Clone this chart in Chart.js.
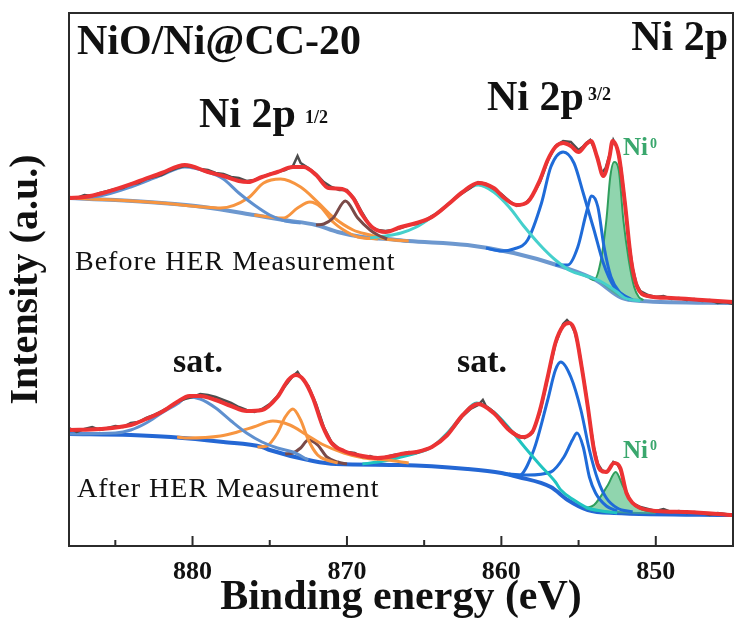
<!DOCTYPE html>
<html>
<head>
<meta charset="utf-8">
<script src="https://cdn.jsdelivr.net/npm/chart.js@4.4.0/dist/chart.umd.min.js"></script>
<style>
  html, body { margin: 0; padding: 0; background: #fff; }
  #wrap { width: 735px; height: 633px; }
</style>
</head>
<body>
<div id="wrap"><canvas id="xps" width="735" height="633"></canvas></div>
<script>
// ejes
const xMin = 845, xMax = 888;
const tickValues = [880, 870, 860, 850];
const minorTicks = [885, 875, 865, 855];

// --- Antes de HER (espectro superior) ---
const beforeRaw = [[888,349],[887.5,348],[887,351],[886.5,350],[886,353],[885.5,355],[885,357],[884.5,358],[884,362],[883.5,363],[883,367],[882.5,369],[882,371],[881.5,375],[881,378],[880.5,380],[880,379],[879.5,377],[879,376],[878.5,373],[878,372],[877.5,369],[877,368],[876.5,365],[876,366],[875.5,369],[875,372],[874.5,374],[874,376],[873.5,380],[873.2,390],[873,383],[872.5,378],[872,372],[871.5,364],[871,359],[870.5,356],[870,356],[869.5,347],[869,333],[868.5,320],[868,316],[867.5,315],[867,316],[866.5,318],[866,321],[865.5,322],[865,325],[864.5,330],[864,334],[863.5,341],[863,348],[862.5,353],[862,358],[861.5,364],[861,362],[860.5,357],[860,352],[859.5,345],[859,340],[858.5,342],[858,350],[857.5,364],[857,385],[856.5,400],[856,405],[855.5,404],[855,396],[854.75,399],[854.5,403],[854.25,406],[854,398],[853.75,387],[853.5,373],[853.25,378],[853,391],[852.75,406],[852.5,398],[852.25,378],[852,344],[851.75,305],[851.5,278],[851.25,262],[851,255],[850.5,251],[850,249],[849.5,250],[849,247],[848.5,248],[848,246],[847.5,247],[847,245],[846.5,246],[846,243],[845.5,244],[845,242]];
const beforeEnv = [[888,348],[887,349],[885.8,353],[883.6,364],[882,373],[880.5,381],[879,374],[878,370],[877,365],[876.4,364],[875.5,369],[874.5,374],[873.5,379],[872.8,379],[872,371],[871.2,358],[870.3,357],[869.6,348],[869,331],[868.3,318],[867.5,314],[866.5,319],[865.5,323],[864.5,329],[863.5,341],[862.5,354],[861.5,363],[860.5,358],[859.8,348],[859,341],[858.3,344],[857.5,366],[857,386],[856.5,399],[856,403],[855.5,400],[855,394],[854.5,402],[854.2,405],[853.8,389],[853.4,370],[853,389],[852.8,405],[852.4,391],[852,343],[851.6,286],[851.2,259],[850.5,250],[849,248],[847,246],[845,244]];
const beforeBg = [[888,348],[885,346],[882,343],[879.3,339],[876,331],[874.1,326],[872,321],[870.6,314],[869,309],[867.4,307],[866,305],[862.2,301],[859.2,293],[856,279],[853.9,266],[852.2,248],[851,245],[845,243]];
const beforeSat1 = [[888,348],[886,350],[884,359],[882,371],[880.5,379],[879,374],[878,367],[877,353],[876,341],[875,331],[874,325],[873,323]];
const beforeOrangeA = [[888,348],[885,346],[882,343],[879.3,339],[878.2,338],[876.4,348],[875.4,363],[874.3,367],[873,359],[871.9,344],[870.9,329],[869.6,316],[868.5,311],[867.5,307],[866,305]];
const beforeOrangeB = [[876,331],[875,329],[874.1,328],[873.2,338],[872.4,344],[871.7,339],[870.9,324],[870,314],[869.3,309],[868,307]];
const beforeBrown = [[872,321],[871.5,322],[870.9,328],[870.1,345],[869.3,328],[868.5,316],[868,311],[867.4,307]];
const beforeSat2 = [[868.5,308],[867.5,310],[866.5,313],[865.5,319],[864.5,329],[863.5,341],[862.5,354],[861.5,361],[860.5,354],[859.5,339],[858.5,319],[857.5,301],[856.5,286],[855.5,275],[854.5,270],[853.5,264],[852.5,254],[852,248],[851,245]];
const beforeBlueA = [[861,298],[860,295],[859.2,297],[858.3,306],[857.4,343],[856.8,379],[856,394],[855.3,383],[854.7,353],[854,316],[853.4,283],[852.7,259],[852.1,251],[851.5,246]];
const beforeBlueB = [[856.5,281],[855.7,281],[855.05,299],[854.5,333],[854.15,350],[853.75,339],[853.35,299],[852.9,269],[852.3,253],[851.7,246]];
const beforeNi0 = [[854.3,268],[854,266],[853.55,286],[853.2,326],[852.95,369],[852.7,384],[852.4,376],[852.1,326],[851.75,286],[851.4,259],[851.1,249],[850.8,246]];

// --- Después de HER (espectro inferior) ---
const afterRaw = [[888,118],[887.5,114],[887,117],[886.5,119],[886,116],[885.5,118],[885,120],[884.5,119],[884,123],[883.5,124],[883,128],[882.5,131],[882,135],[881.5,139],[881,144],[880.5,147],[880,149],[879.5,152],[879,151],[878.5,149],[878,146],[877.5,143],[877,139],[876.5,136],[876,134],[875.5,137],[875,142],[874.5,150],[874,160],[873.5,170],[873.2,174],[873,169],[872.5,160],[872,142],[871.5,119],[871,104],[870.5,97],[870,94],[869.5,93],[869,89],[868.5,90],[868,87],[867.5,89],[867,91],[866.5,92],[866,94],[865.5,93],[865,96],[864.5,99],[864,104],[863.5,111],[863,120],[862.5,130],[862,137],[861.5,141],[861.2,146],[861,140],[860.5,134],[860,126],[859.5,117],[859,111],[858.5,108],[858,113],[857.5,133],[857,168],[856.5,202],[856,222],[855.75,226],[855.5,222],[855.25,214],[855,199],[854.75,175],[854.5,150],[854.25,122],[854,98],[853.75,82],[853.5,76],[853.25,74],[853,77],[852.75,84],[852.5,82],[852.25,75],[852,58],[851.75,48],[851.5,43],[851,39],[850.5,37],[850,35],[849.5,37],[849,34],[848.5,35],[848,33],[847.5,34],[847,33],[846.5,31],[846,33],[845.5,32],[845,31]];
const afterEnv = [[888,116],[886,117],[884,121],[883,127],[882,134],[881,144],[880.2,150],[879.5,150],[878.5,146],[877.5,140],[876.5,135],[875.5,136],[874.5,149],[873.8,166],[873.3,171],[872.8,166],[872.2,148],[871.6,121],[871,103],[870.2,95],[869,90],[868,88],[867,90],[866.5,92],[865.5,94],[864.5,99],[863.5,111],[862.5,131],[861.5,142],[860.5,133],[859.5,116],[858.7,109],[858,114],[857.5,136],[857,169],[856.5,203],[856,220],[855.6,223],[855.2,213],[854.8,179],[854.4,139],[854,96],[853.6,76],[853.2,74],[852.7,83],[852.3,78],[851.9,53],[851.5,43],[851,38],[850,35],[848,34],[845,31]];
const afterBg = [[888,112],[884,111],[881.4,109],[878,104],[875.5,99],[875,96],[872.2,85],[870.7,82],[866.5,81],[862.2,77],[860,73],[858.9,69],[856.8,59],[855.7,46],[854.4,36],[852.7,33],[845,31]];
const afterSat1 = [[888,112],[885,113],[884,116],[883,123],[882,133],[881,142],[880.3,149],[879.5,147],[878.5,138],[877.5,125],[876.5,113],[875.5,104],[874.5,98],[873.5,94],[872.5,86]];
const afterOrangeA = [[881,109],[880.3,108],[878.2,110],[877.1,114],[876.05,119],[874.8,125],[873.7,121],[872.6,111],[871.5,101],[870.2,93],[868.9,88],[867.4,86],[866,83]];
const afterOrangeB = [[875.8,99],[875.2,100],[874.5,113],[874,129],[873.5,137],[873,126],[872.5,106],[871.9,91],[871.3,86],[870.6,83]];
const afterBrown = [[874,92],[873.5,93],[873,98],[872.5,106],[871.9,101],[871.3,89],[870.6,84],[870,82]];
const afterSat2 = [[869,82],[868,84],[867,87],[866.5,89],[865.5,93],[864.5,99],[863.5,113],[862.5,131],[861.6,143],[860.5,134],[859.5,118],[858.5,99],[857.5,81],[856.5,64],[856.15,56],[855.3,46],[854.4,38],[853.5,35],[852.5,33]];
const afterBlueA = [[860,73],[858.9,70],[857.9,96],[857,146],[856.5,176],[856.15,184],[855.5,169],[854.85,136],[854.3,96],[853.75,66],[853.2,48],[852.5,38],[851.5,34]];
const afterBlueB = [[859.5,72],[858.3,71],[856.8,74],[855.95,89],[855.4,106],[855.1,113],[854.7,99],[854.3,69],[853.9,53],[853.2,40],[852.5,35]];
const afterNi0 = [[854.6,38],[854,41],[853.1,61],[852.6,74],[852.1,59],[851.4,41],[850.8,36],[850,34]];

const SERIF = '"Liberation Serif", "Times New Roman", serif';

function smooth(data, color, width, order, extra) {
    return Object.assign({
        data: data,
        borderColor: color,
        borderWidth: width,
        pointRadius: 0,
        fill: false,
        cubicInterpolationMode: 'monotone',
        order: order
    }, extra || {});
}

const datasets = [
    // 0,1 fondos
    smooth(beforeBg, '#6d98cf', 4, 20),
    smooth(afterBg, '#2467d4', 4, 20),
    // picos Ni0 rellenos hasta el fondo
    smooth(beforeNi0, '#2f9e5c', 2, 12, { fill: { target: 0 }, backgroundColor: 'rgba(70,185,120,0.6)' }),
    smooth(afterNi0, '#2f9e5c', 2, 12, { fill: { target: 1 }, backgroundColor: 'rgba(70,185,120,0.6)' }),
    // componentes
    smooth(beforeSat1, '#5f90cf', 3, 10),
    smooth(beforeOrangeA, '#f79540', 3, 11),
    smooth(beforeOrangeB, '#f79540', 3, 11),
    smooth(beforeBrown, '#7a4a48', 3, 10),
    smooth(beforeSat2, '#45d0cc', 3, 10),
    smooth(beforeBlueA, '#1f6bd8', 3, 10),
    smooth(beforeBlueB, '#1f6bd8', 3, 10),
    smooth(afterSat1, '#5f90cf', 3, 10),
    smooth(afterOrangeA, '#f79540', 3, 10),
    smooth(afterOrangeB, '#f79540', 3, 10),
    smooth(afterBrown, '#7a4a48', 3, 10),
    smooth(afterSat2, '#20c4c0', 3, 10),
    smooth(afterBlueA, '#1f6bd8', 3, 10),
    smooth(afterBlueB, '#1f6bd8', 3, 10),
    // datos medidos
    { data: beforeRaw, borderColor: '#4d4d4d', borderWidth: 2.5, pointRadius: 0, tension: 0, order: 2 },
    { data: afterRaw, borderColor: '#4d4d4d', borderWidth: 2.5, pointRadius: 0, tension: 0, order: 2 },
    // envolventes
    smooth(beforeEnv, '#ec3334', 4, 1),
    smooth(afterEnv, '#ec3334', 4, 1)
];

// marco + ticks hacia dentro + textos
const decorations = {
    id: 'decorations',
    afterDatasetsDraw(chart) {
        const { ctx, chartArea: a, scales: { x } } = chart;
        ctx.save();
        ctx.strokeStyle = '#2b2b2b';
        ctx.lineWidth = 2;
        ctx.strokeRect(a.left, a.top, a.right - a.left, a.bottom - a.top);
        ctx.beginPath();
        tickValues.forEach(v => {
            const px = x.getPixelForValue(v);
            ctx.moveTo(px, a.bottom); ctx.lineTo(px, a.bottom - 10);
        });
        minorTicks.forEach(v => {
            const px = x.getPixelForValue(v);
            ctx.moveTo(px, a.bottom); ctx.lineTo(px, a.bottom - 6);
        });
        ctx.stroke();

        ctx.fillStyle = '#111';
        ctx.textBaseline = 'alphabetic';
        ctx.textAlign = 'left';
        ctx.font = 'bold 42px ' + SERIF;
        ctx.fillText('NiO/Ni@CC-20', 77, 54);
        ctx.textAlign = 'right';
        ctx.fillText('Ni 2p', 728, 50);
        ctx.textAlign = 'left';
        ctx.fillText('Ni 2p', 199, 127);
        ctx.fillText('Ni 2p', 487, 110);
        ctx.font = 'bold 18px ' + SERIF;
        ctx.fillText('1/2', 305, 123);
        ctx.fillText('3/2', 588, 100);
        ctx.font = 'bold 34px ' + SERIF;
        ctx.fillText('sat.', 173, 372);
        ctx.fillText('sat.', 457, 372);

        ctx.font = '28px ' + SERIF;
        ctx.letterSpacing = '1px';
        ctx.fillText('Before HER Measurement', 75, 270);
        ctx.fillText('After HER Measurement', 77, 497);
        ctx.letterSpacing = '0px';

        ctx.fillStyle = '#3aa76d';
        ctx.font = 'bold 25px ' + SERIF;
        ctx.fillText('Ni', 623, 155);
        ctx.fillText('Ni', 623, 458);
        ctx.font = 'bold 14px ' + SERIF;
        ctx.fillText('0', 650, 148);
        ctx.fillText('0', 650, 450);
        ctx.restore();
    }
};

new Chart(document.getElementById('xps'), {
    type: 'line',
    data: { datasets: datasets },
    options: {
        responsive: false,
        animation: false,
        layout: { padding: { top: 13, right: 2, left: 0, bottom: 0 } },
        plugins: { legend: { display: false }, tooltip: { enabled: false } },
        scales: {
            x: {
                type: 'linear',
                min: xMin,
                max: xMax,
                reverse: true,
                afterBuildTicks: (s) => { s.ticks = tickValues.map(v => ({ value: v })); },
                afterFit: (s) => { s.height = 87; },
                grid: { display: false, drawTicks: false },
                border: { display: false },
                ticks: { color: '#111', padding: 11, maxRotation: 0, font: { family: SERIF, size: 26, weight: 'bold' } },
                title: { display: true, text: 'Binding energy (eV)', color: '#111', padding: { top: 0, bottom: 10 }, font: { family: SERIF, size: 42, weight: 'bold' } }
            },
            y: {
                min: 0,
                max: 533,
                afterFit: (s) => { s.width = 69; },
                grid: { display: false, drawTicks: false },
                border: { display: false },
                ticks: { display: false },
                title: { display: true, text: 'Intensity (a.u.)', color: '#111', padding: { top: 3, bottom: 0 }, font: { family: SERIF, size: 40, weight: 'bold' } }
            }
        }
    },
    plugins: [decorations]
});
</script>
</body>
</html>
